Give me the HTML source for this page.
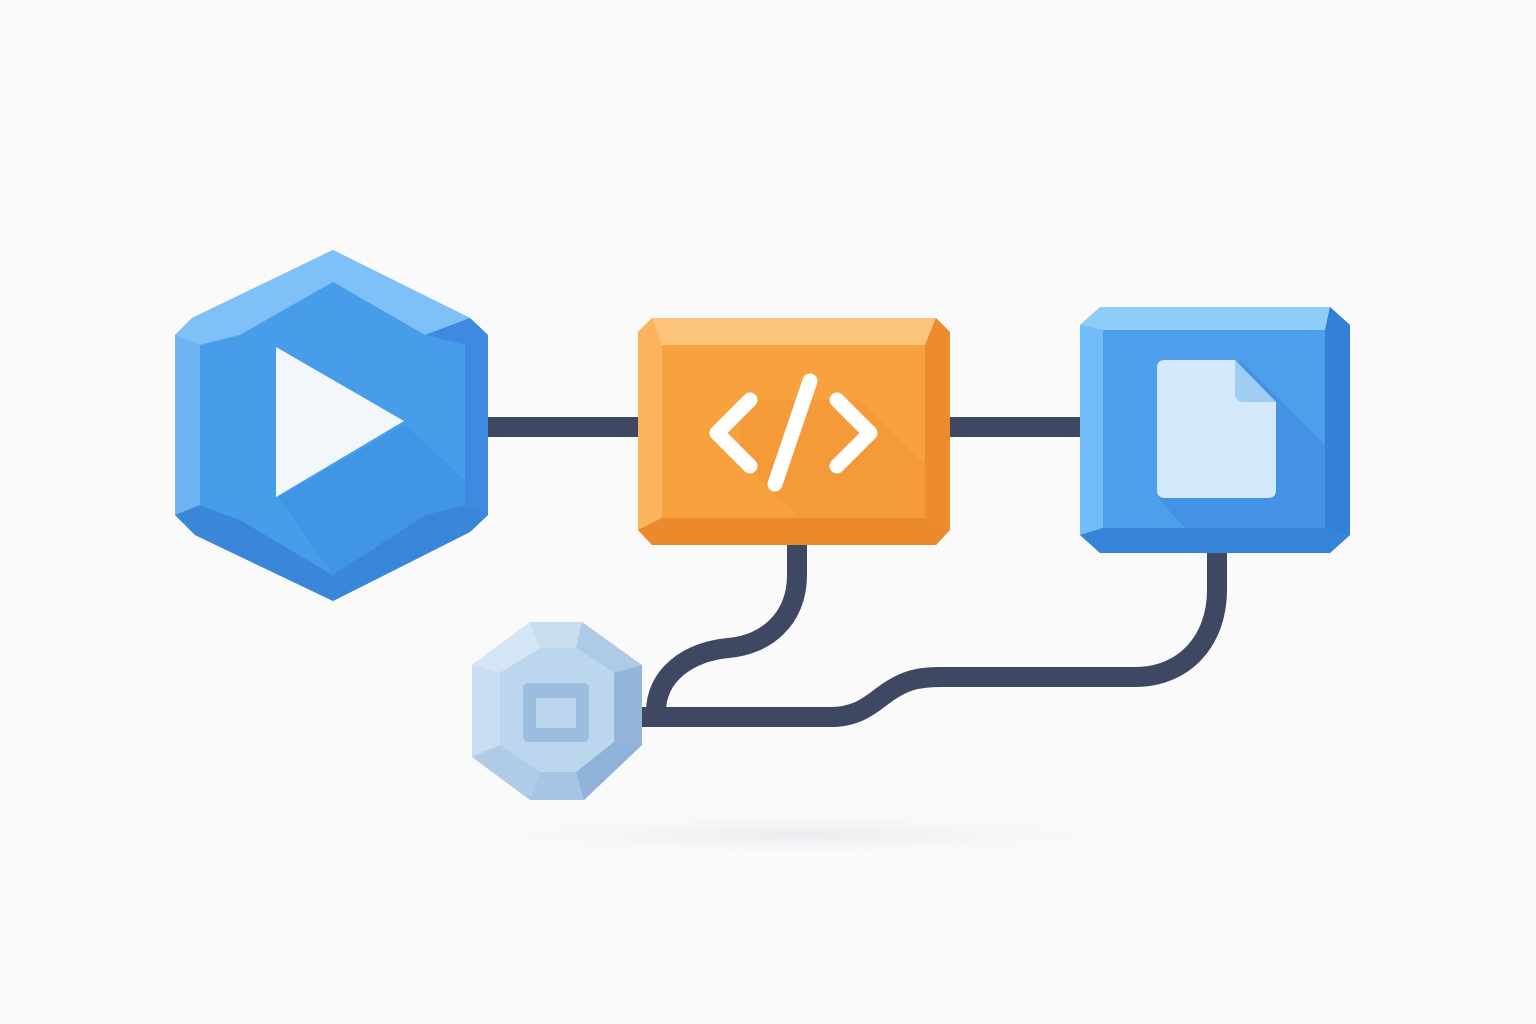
<!DOCTYPE html>
<html><head><style>html,body{margin:0;padding:0;background:#fafafa;}svg{display:block}</style></head>
<body>
<svg width="1536" height="1024" viewBox="0 0 1536 1024" xmlns="http://www.w3.org/2000/svg">
<defs>
<radialGradient id="sh" cx="0.5" cy="0.5" r="0.5"><stop offset="0" stop-color="#e6e8ec" stop-opacity="0.8"/><stop offset="1" stop-color="#fafafa" stop-opacity="0"/></radialGradient>
</defs>
<rect width="1536" height="1024" fill="#fafafa"/>
<ellipse cx="800" cy="835" rx="410" ry="25" fill="url(#sh)"/>
<!-- connectors -->
<g fill="none" stroke="#3f4862" stroke-width="20">
<line x1="485" y1="427" x2="642" y2="427"/>
<line x1="945" y1="427" x2="1085" y2="427"/>
<path d="M797,540 V575 C797,620 765,645 728,648 C688,652 656,675 656,712"/>
<path d="M640,717 H830 C860,717 872,703 888,692 C903,682 915,677 940,677 H1135 C1185,677 1217,640 1217,590 V550"/>
</g>
<!-- hexagon -->
<polygon points="333,250 470,318 488,335 488,515 470,532 333,601 195,535 175,515 175,335 192,318" fill="#4a9de8"/>
<polygon points="333,250 470,318 425,335 333,282 240,335 200,345 175,335 192,318" fill="#7ec0f7"/>
<polygon points="175,335 200,345 200,505 175,515" fill="#6db4f3"/>
<polygon points="470,318 488,335 488,515 465,505 465,345 425,335" fill="#3d8ae0"/>
<polygon points="175,515 200,505 240,520 333,575 425,515 465,505 488,515 470,532 333,601 195,535" fill="#3a86d9"/>
<polygon points="333,282 425,335 465,345 465,505 425,515 333,575 240,520 200,505 200,345 240,335" fill="#479de9"/>
<polygon points="278,497 405,425 465,480 465,505 425,515 333,575" fill="#3f92e2" opacity="0.7"/>
<polygon points="276,347 404,421 276,497" fill="#f2f7fc"/>
<!-- orange box -->
<polygon points="652,318 936,318 950,332 950,530 936,545 652,545 638,530 638,332" fill="#f8a23f"/>
<polygon points="652,318 936,318 925,345 662,345" fill="#fcc47a"/>
<polygon points="638,332 652,318 662,345 662,518 638,530" fill="#fbb35e"/>
<polygon points="936,318 950,332 950,530 925,518 925,345" fill="#ec8c2e"/>
<polygon points="638,530 662,518 925,518 950,530 936,545 652,545" fill="#eb8a2c"/>
<polygon points="740,400 860,400 925,465 925,518 800,518 740,460" fill="#f39535" opacity="0.6"/>
<g stroke="#fff" stroke-width="15" stroke-linecap="round" fill="none" stroke-linejoin="round">
<polyline points="750,400 717,433 750,466"/>
<polyline points="837,400 870,433 837,466"/>
<line x1="810" y1="381" x2="775" y2="484"/>
</g>
<!-- blue square -->
<polygon points="1100,307 1330,307 1350,325 1350,535 1330,553 1100,553 1080,535 1080,325" fill="#4d9fec"/>
<polygon points="1100,307 1330,307 1325,330 1103,330 1080,325" fill="#8fcdf9"/>
<polygon points="1080,325 1103,330 1103,528 1080,535" fill="#72bdf7"/>
<polygon points="1330,307 1350,325 1350,535 1325,528 1325,330" fill="#3380d6"/>
<polygon points="1080,535 1103,528 1325,528 1350,535 1330,553 1100,553" fill="#3684d8"/>
<polygon points="1240,360 1325,445 1325,528 1185,528 1158,498" fill="#3f8de0" opacity="0.7"/>
<path d="M1165,360 H1235 L1276,402 V490 Q1276,498 1268,498 H1165 Q1157,498 1157,490 V368 Q1157,360 1165,360 Z" fill="#d4e9fb"/>
<path d="M1235,360 L1276,402 H1244 Q1235,402 1235,393 Z" fill="#9fcdf4"/>
<!-- small octagon -->
<polygon points="530,622 582,622 642,665 642,745 584,800 530,800 472,757 472,665" fill="#b9d3eb"/>
<polygon points="530,622 582,622 576,648 540,648" fill="#c9ddf0"/>
<polygon points="472,665 530,622 540,648 500,673" fill="#d4e5f5"/>
<polygon points="582,622 642,665 614,673 576,648" fill="#aecbe6"/>
<polygon points="642,665 642,745 614,742 614,673" fill="#94b6da"/>
<polygon points="642,745 584,800 576,772 614,742" fill="#8fb2d8"/>
<polygon points="584,800 530,800 540,772 576,772" fill="#a6c4e3"/>
<polygon points="530,800 472,757 500,745 540,772" fill="#b0cbe7"/>
<polygon points="472,757 472,665 500,673 500,745" fill="#c8ddf1"/>
<polygon points="540,648 576,648 614,673 614,742 576,772 540,772 500,745 500,673" fill="#bcd6ee"/>
<rect x="523" y="683" width="66" height="59" rx="5" fill="#9dbde0"/>
<rect x="536" y="698" width="40" height="30" fill="#bcd6ee"/>
</svg>
</body></html>
